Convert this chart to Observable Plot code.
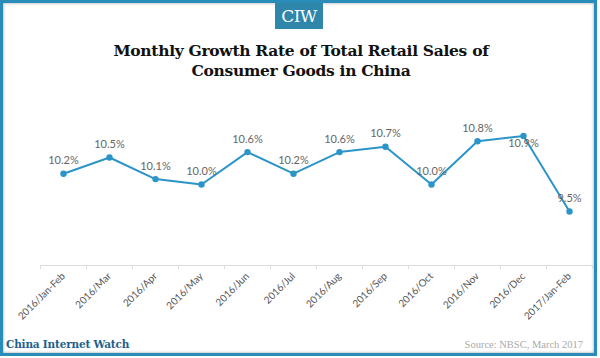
<!DOCTYPE html>
<html><head><meta charset="utf-8">
<script src="https://cdn.jsdelivr.net/npm/d3@7"></script>
<script src="https://cdn.jsdelivr.net/npm/@observablehq/plot@0.6"></script>
<style>
html,body{margin:0;padding:0;background:#fff;}
#wrap{position:relative;width:600px;height:358px;overflow:hidden;background:#fff;}
#frame{position:absolute;left:0;top:0;width:597px;height:356px;box-sizing:border-box;border:3px solid #2a8cb8;box-shadow:inset 0 0 3px #999;}
#logo{position:absolute;left:275px;top:3px;width:48px;height:26px;background:#2e86ab;color:#fff;font-family:"DejaVu Serif",serif;font-size:17px;line-height:26px;text-align:center;letter-spacing:-0.5px;}
#title{position:absolute;left:0;top:41px;width:602px;text-align:center;font-family:"DejaVu Serif",serif;font-weight:bold;font-size:15.5px;line-height:20px;color:#111;letter-spacing:-0.3px;}
#chart{position:absolute;left:0;top:90px;}
#brand{position:absolute;left:6px;top:338px;font-family:"DejaVu Serif",serif;font-weight:bold;font-size:10.5px;color:#1d5f8e;letter-spacing:-0.2px;}
#source{position:absolute;right:17px;top:339px;font-family:"Liberation Serif",serif;font-size:10.5px;color:#aaa;}
</style></head>
<body>
<div id="wrap">
  <div id="frame"></div>
  <div id="logo">CIW</div>
  <div id="title">Monthly Growth Rate of Total Retail Sales of<br>Consumer Goods in China</div>
  <div id="chart"></div>
  <div id="brand">China Internet Watch</div>
  <div id="source">Source: NBSC, March 2017</div>
</div>
<script>
const months = ["2016/Jan-Feb","2016/Mar","2016/Apr","2016/May","2016/Jun","2016/Jul","2016/Aug","2016/Sep","2016/Oct","2016/Nov","2016/Dec","2017/Jan-Feb"];
const growth = [10.2,10.5,10.1,10.0,10.6,10.2,10.6,10.7,10.0,10.8,10.9,9.5];
const data = months.map((m,i)=>({month:m, value:growth[i]}));
const lineColor = "#2b94c8";
const chart = Plot.plot({
  width: 600,
  height: 240,
  marginLeft: 40,
  marginRight: 8,
  marginTop: 40,
  marginBottom: 65,
  style: {fontFamily: "Lato, sans-serif", background: "transparent"},
  x: {type: "point", domain: months, padding: 0.5, label: null},
  y: {domain: [8.5, 11], axis: null},
  marks: [
    Plot.ruleY([8.5], {stroke: "#dddddd", strokeWidth: 1}),
    Plot.axisX({tickSize: 4, stroke: "#dddddd", text: null, dx: -23, label: null}),
    Plot.axisX({ticks: [months[months.length-1]], tickSize: 4, stroke: "#dddddd", text: null, dx: 23, label: null}),
    Plot.axisX({tickSize: 0, tickRotate: -45, tickPadding: 9, fontSize: 10, fill: "#555", label: null}),
    Plot.line(data, {x: "month", y: "value", stroke: lineColor, strokeWidth: 2}),
    Plot.dot(data, {x: "month", y: "value", fill: lineColor, r: 3.2}),
    Plot.text(data.filter(d => d.month !== "2016/Dec"), {x: "month", y: "value", text: d => d.value.toFixed(1) + "%", dy: -13, fontSize: 11, fill: "#666"}),
    Plot.text(data.filter(d => d.month === "2016/Dec"), {x: "month", y: "value", text: d => d.value.toFixed(1) + "%", dy: 8, fontSize: 11, fill: "#666"})
  ]
});
document.getElementById("chart").appendChild(chart);
</script>
</body></html>
